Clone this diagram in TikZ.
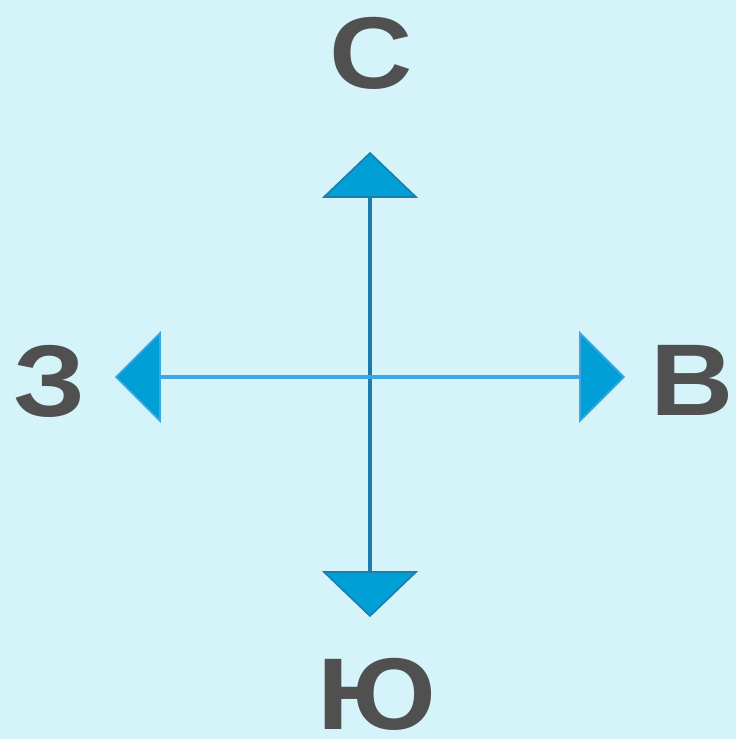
\documentclass[tikz,border=0pt]{standalone}
\usepackage{fontspec}
\setmainfont{Liberation Sans}
\begin{document}
\begin{tikzpicture}[x=1pt,y=-1pt,
  lbl/.style={inner sep=0pt,font=\fontsize{102}{102}\bfseries\selectfont,text=labgray,xscale=1.13},
  vline/.style={draw=vdark,line width=4pt},
  hline/.style={draw=hlight,line width=4pt},
  vtri/.style={fill=trifill,draw=vdark,line width=1.6pt,line join=miter},
  htri/.style={fill=trifill,draw=hlight,line width=1.6pt,line join=miter}]
\definecolor{bg}{HTML}{D5F4FA}
\definecolor{labgray}{HTML}{505050}
\definecolor{vdark}{HTML}{1A7DAE}
\definecolor{hlight}{HTML}{3FA6E6}
\definecolor{trifill}{HTML}{009FD6}
\fill[bg] (0,0) rectangle (736,739);
\useasboundingbox (0,0) rectangle (736,739);
% coordinates
\coordinate (top) at (370,197);
\coordinate (bot) at (370,572);
\coordinate (lft) at (160,377);
\coordinate (rgt) at (580,377);
% vertical line and triangles
\draw[vline] (top) -- (bot);
\filldraw[vtri] (370,153) -- (416,197) -- (324,197) -- cycle;
\filldraw[vtri] (370,616) -- (416,572) -- (324,572) -- cycle;
% horizontal line and triangles
\draw[hline] (lft) -- (rgt);
\filldraw[htri] (116,377) -- (160,333) -- (160,421) -- cycle;
\filldraw[htri] (624,377) -- (580,333) -- (580,421) -- cycle;
% labels
\node[lbl] (north) at (371,53) {С};
\node[lbl] (east) at (692,380) {В};
\node[lbl] (south) at (377,694) {Ю};
\node[lbl] (west) at (50,381) {З};
\end{tikzpicture}
\end{document}
